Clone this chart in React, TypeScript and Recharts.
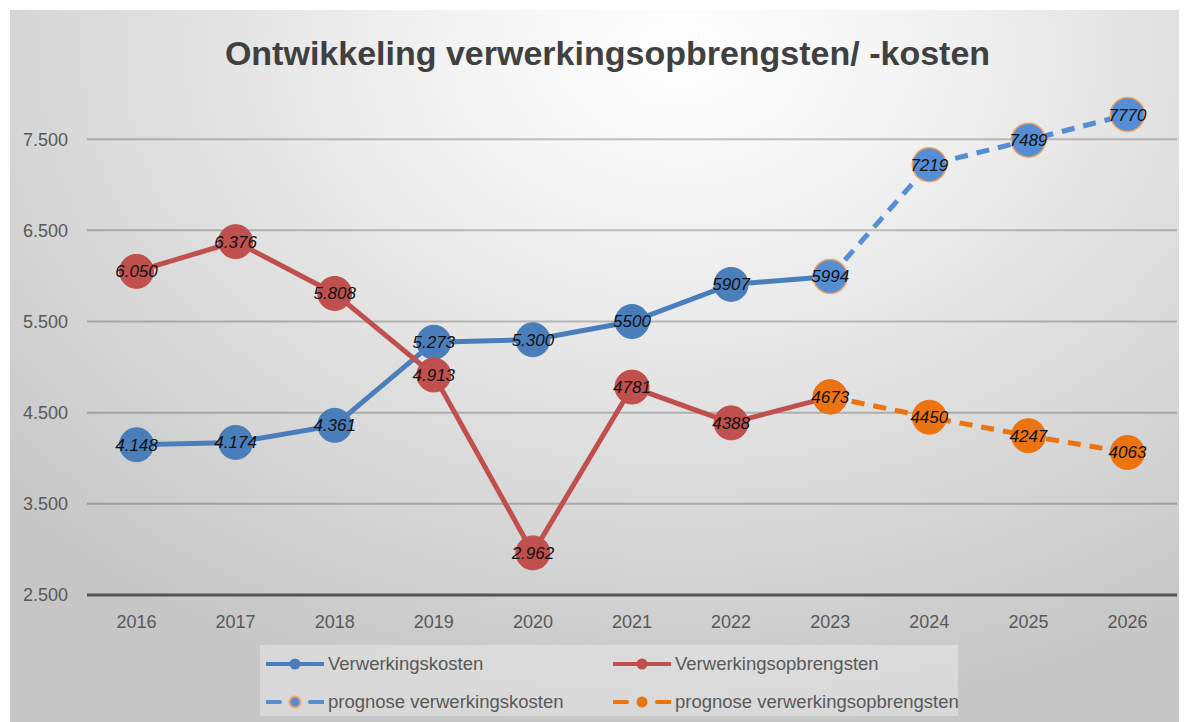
import React from "react";
import { LineChart, Line, XAxis, YAxis, CartesianGrid, LabelList } from "recharts";

const years = ["2016", "2017", "2018", "2019", "2020", "2021", "2022", "2023", "2024", "2025", "2026"];
const kosten: (number | null)[] = [4148, 4174, 4361, 5273, 5300, 5500, 5907, 5994, null, null, null];
const kostenLabels: (string | null)[] = ["4.148", "4.174", "4.361", "5.273", "5.300", "5500", "5907", null, null, null, null];
const opbrengsten: (number | null)[] = [6050, 6376, 5808, 4913, 2962, 4781, 4388, 4673, null, null, null];
const opbrengstenLabels: (string | null)[] = ["6.050", "6.376", "5.808", "4.913", "2.962", "4781", "4388", null, null, null, null];
const progKosten: (number | null)[] = [null, null, null, null, null, null, null, 5994, 7219, 7489, 7770];
const progKostenLabels: (string | null)[] = [null, null, null, null, null, null, null, "5994", "7219", "7489", "7770"];
const progOpbr: (number | null)[] = [null, null, null, null, null, null, null, 4673, 4450, 4247, 4063];
const progOpbrLabels: (string | null)[] = [null, null, null, null, null, null, null, "4673", "4450", "4247", "4063"];
const yTicks = [2500, 3500, 4500, 5500, 6500, 7500];
const gridValues = [3500, 4500, 5500, 6500, 7500];

const seriesNames = [
  "Verwerkingskosten",
  "Verwerkingsopbrengsten",
  "prognose verwerkingskosten",
  "prognose verwerkingsopbrengsten",
];

const data = years.map((y, i) => ({
  year: y,
  kosten: kosten[i],
  kostenL: kostenLabels[i],
  opbr: opbrengsten[i],
  opbrL: opbrengstenLabels[i],
  pk: progKosten[i],
  pkL: progKostenLabels[i],
  po: progOpbr[i],
  poL: progOpbrLabels[i],
}));

const FONT = "'Liberation Sans', Arial, sans-serif";
const BLUE = "#4A7EBB";
const BLUE2 = "#558ED5";
const RED = "#C0504D";
const ORANGE = "#EC7410";

const renderLabel = (p: any) => {
  if (p.value == null || p.x == null || p.y == null) return null;
  return (
    <text
      x={p.x}
      y={p.y}
      dy="0.35em"
      textAnchor="middle"
      fontFamily={FONT}
      fontStyle="italic"
      fontSize={17}
      fill="#111"
    >
      {p.value}
    </text>
  );
};

const fmt = (v: number) => String(v).replace(/(\d)(\d{3})$/, "$1.$2");

const LegendIcon = ({ color, dashed, dotFill, dotStroke }: any) => (
  <svg width={58} height={16} style={{ display: "block" }}>
    {dashed ? (
      <>
        <line x1={0} x2={14} y1={8} y2={8} stroke={color} strokeWidth={4} strokeLinecap="round" />
        <line x1={44} x2={58} y1={8} y2={8} stroke={color} strokeWidth={4} strokeLinecap="round" />
      </>
    ) : (
      <line x1={0} x2={58} y1={8} y2={8} stroke={color} strokeWidth={4} strokeLinecap="round" />
    )}
    <circle cx={29} cy={8} r={5.5} fill={dotFill} stroke={dotStroke || "none"} strokeWidth={dotStroke ? 2 : 0} />
  </svg>
);

const legendItems = [
  { name: seriesNames[0], color: BLUE, dashed: false, dotFill: BLUE },
  { name: seriesNames[1], color: RED, dashed: false, dotFill: RED },
  { name: seriesNames[2], color: BLUE2, dashed: true, dotFill: BLUE2, dotStroke: "#F4A460" },
  { name: seriesNames[3], color: ORANGE, dashed: true, dotFill: ORANGE },
];

export default function App() {
  return (
    <div
      style={{
        marginLeft: 2,
        marginTop: 2,
        position: "relative",
        width: 1177,
        height: 712,
        background:
          "radial-gradient(ellipse 78% 95% at 57% 6%, #ffffff 0%, #f3f3f3 25%, #dcdcdc 62%, #c6c6c6 100%)",
        overflow: "hidden",
      }}
    >
      <div
        style={{
          position: "absolute",
          left: 0,
          width: 1177,
          top: 24,
          textAlign: "center",
          fontFamily: FONT,
          fontWeight: "bold",
          fontSize: 34,
          color: "#404040",
          paddingLeft: 18,
          boxSizing: "border-box",
          lineHeight: "38px",
        }}
      >
        Ontwikkeling verwerkingsopbrengsten/ -kosten
      </div>
      <LineChart
        width={1177}
        height={712}
        data={data}
        margin={{ top: 38, right: 10, bottom: 97, left: 0 }}
        style={{ position: "absolute", left: 0, top: 0 }}
      >
        <CartesianGrid
          vertical={false}
          horizontalValues={gridValues}
          stroke="#000"
          strokeOpacity={0.22}
          strokeWidth={2}
        />
        <XAxis
          dataKey="year"
          height={30}
          padding={{ left: 49.5, right: 49.5 }}
          tickSize={0}
          tickMargin={20}
          axisLine={{ stroke: "#555", strokeWidth: 3 }}
          tick={{ fontFamily: FONT, fontSize: 18, fill: "#595959" }}
        />
        <YAxis
          width={77}
          domain={[2500, 8500]}
          ticks={yTicks}
          tickFormatter={fmt}
          axisLine={false}
          tickSize={0}
          tickMargin={19}
          tick={{ fontFamily: FONT, fontSize: 18, fill: "#595959" }}
        />
        <Line
          dataKey="kosten"
          stroke={BLUE}
          strokeWidth={5}
          dot={{ r: 17, fill: BLUE, stroke: BLUE, strokeWidth: 1 }}
          isAnimationActive={false}
        >
          <LabelList dataKey="kostenL" content={renderLabel} />
        </Line>
        <Line
          dataKey="opbr"
          stroke={RED}
          strokeWidth={5}
          dot={{ r: 17, fill: RED, stroke: RED, strokeWidth: 1 }}
          isAnimationActive={false}
        >
          <LabelList dataKey="opbrL" content={renderLabel} />
        </Line>
        <Line
          dataKey="pk"
          stroke={BLUE2}
          strokeWidth={5}
          strokeDasharray="13 9"
          dot={{ r: 17, fill: BLUE2, stroke: "#F4A460", strokeWidth: 1.5, strokeDasharray: "" }}
          isAnimationActive={false}
        >
          <LabelList dataKey="pkL" content={renderLabel} />
        </Line>
        <Line
          dataKey="po"
          stroke={ORANGE}
          strokeWidth={5}
          strokeDasharray="13 9"
          dot={{ r: 17, fill: ORANGE, stroke: ORANGE, strokeWidth: 1, strokeDasharray: "" }}
          isAnimationActive={false}
        >
          <LabelList dataKey="poL" content={renderLabel} />
        </Line>
      </LineChart>
      <div
        style={{
          position: "absolute",
          left: 250,
          top: 635,
          width: 698,
          height: 71,
          background: "rgba(255,255,255,0.32)",
          fontFamily: FONT,
          fontSize: 18.5,
          color: "#595959",
        }}
      >
        {legendItems.map((it, i) => (
          <div
            key={it.name}
            style={{
              position: "absolute",
              left: i % 2 === 0 ? 6 : 353,
              top: i < 2 ? 19 : 57,
              transform: "translateY(-50%)",
              display: "flex",
              alignItems: "center",
              gap: 4,
              whiteSpace: "nowrap",
              lineHeight: "22px",
            }}
          >
            <LegendIcon color={it.color} dashed={it.dashed} dotFill={it.dotFill} dotStroke={it.dotStroke} />
            <span>{it.name}</span>
          </div>
        ))}
      </div>
    </div>
  );
}
